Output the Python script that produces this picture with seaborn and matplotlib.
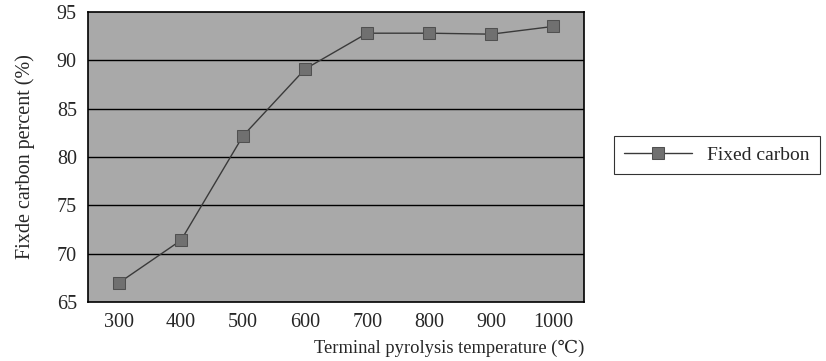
import numpy as np
import pandas as pd
import matplotlib
matplotlib.use('Agg')
import matplotlib.pyplot as plt
import seaborn as sns

# data
temps = ['300', '400', '500', '600', '700', '800', '900', '1000']
fixed_carbon = [67.0, 71.4, 82.2, 89.1, 92.8, 92.8, 92.7, 93.5]

df = pd.DataFrame({'temp': temps, 'carbon': fixed_carbon})

sns.set_style('white')
plt.rcParams['font.family'] = ['Liberation Serif', 'DejaVu Serif']

fig = plt.figure(figsize=(8.26, 3.61), dpi=100)
ax = fig.add_axes([0.1065, 0.163, 0.601, 0.804])
ax.set_facecolor('#a9a9a9')

ax = sns.lineplot(data=df, x='temp', y='carbon', ax=ax, color='#3a3a3a', lw=1.0,
                  marker='s', markersize=9, markerfacecolor='#707070',
                  markeredgecolor='#505050', label='Fixed carbon', sort=False)

# horizontal gridlines
for yv in [70, 75, 80, 85, 90]:
    ax.axhline(yv, color='black', lw=1.0, zorder=1)

ax.set_ylim(65, 95)
ax.set_xlim(-0.5, len(temps) - 0.5)
ax.set_yticks([65, 70, 75, 80, 85, 90, 95])
ax.tick_params(axis='y', length=0, labelsize=14.5, pad=8)
ax.tick_params(axis='x', length=0, labelsize=14.5, pad=8)
# category boundary ticks
ax.set_xticks(np.arange(0.5, len(temps) - 0.5, 1), minor=True)
ax.tick_params(axis='x', which='minor', direction='in', length=5, width=1, color='black')

for s in ax.spines.values():
    s.set_color('black')
    s.set_linewidth(1.2)

ax.set_xlabel('Terminal pyrolysis temperature (\u2103)', fontsize=13.3, loc='right', labelpad=5)
ax.set_ylabel('Fixde carbon percent (%)', fontsize=14.5, labelpad=16)

leg = ax.legend(loc='center left', bbox_to_anchor=(1.04, 0.507), fontsize=14,
                frameon=True, fancybox=False, edgecolor='black', borderpad=0.5,
                handlelength=3.5)
leg.get_frame().set_linewidth(0.8)

plt.savefig('out.png', dpi=100)
